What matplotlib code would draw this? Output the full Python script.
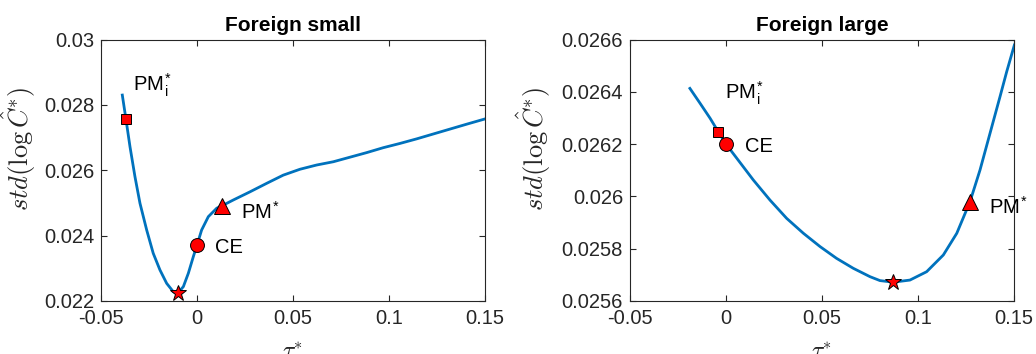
import numpy as np
import matplotlib.pyplot as plt

plt.rcParams['font.family'] = ['Liberation Sans', 'DejaVu Sans']
plt.rcParams['mathtext.fontset'] = 'cm'

# std of log consumption vs tariff, foreign small
tau_small = [-0.0389, -0.0370, -0.0349, -0.0323, -0.0297, -0.0262, -0.0228, -0.0193,
             -0.0158, -0.0123, -0.0100, -0.0071, -0.0045, -0.0019, 0.0, 0.0024,
             0.0059, 0.0103, 0.0129, 0.0189, 0.0276, 0.0363, 0.0449, 0.0536, 0.0623,
             0.0710, 0.0797, 0.0884, 0.0970, 0.1057, 0.1144, 0.1231, 0.1318, 0.1405,
             0.1500]
std_small = [0.02830, 0.02756, 0.02672, 0.02580, 0.02499, 0.02417, 0.02346, 0.02295,
             0.02254, 0.02228, 0.02224, 0.02244, 0.02285, 0.02336, 0.02371, 0.02417,
             0.02458, 0.02484, 0.02491, 0.02509, 0.02534, 0.02560, 0.02585, 0.02603,
             0.02616, 0.02626, 0.02640, 0.02654, 0.02669, 0.02682, 0.02696, 0.02711,
             0.02726, 0.02741, 0.02757]

# foreign large
tau_large = [-0.0188, -0.0135, -0.0083, -0.0040, 0.0, 0.0056, 0.0142, 0.0229, 0.0316,
             0.0403, 0.0490, 0.0576, 0.0663, 0.0750, 0.0802, 0.0871, 0.0958, 0.1045,
             0.1132, 0.1202, 0.1271, 0.1323, 0.1375, 0.1427, 0.1462, 0.1502]
std_large = [0.026413, 0.026356, 0.026299, 0.026247, 0.026200, 0.026146, 0.026063,
             0.025986, 0.025916, 0.025859, 0.025808, 0.025763, 0.025725, 0.025693,
             0.025678, 0.025672, 0.025680, 0.025712, 0.025776, 0.025859, 0.025980,
             0.026101, 0.026241, 0.026381, 0.026477, 0.026579]

# equilibrium points: (tau, std)
opt_small = (-0.0100, 0.02224)
ce_small = (0.0, 0.02371)
pm_small = (0.0129, 0.02491)
pmi_small = (-0.0370, 0.02756)

opt_large = (0.0871, 0.025672)
ce_large = (0.0, 0.026200)
pm_large = (0.1271, 0.025980)
pmi_large = (-0.0040, 0.026247)

blue = '#0072BD'
dark = '#262626'
PMI = r'PM$_\mathregular{i}^\mathregular{*}$'
PM = r'PM$^\mathregular{*}$'


def draw_panel(ax, tau, std, opt, ce, pm, pmi, title, ylim, yticks, ylabels, txt, ylab_x):
    ax.plot(tau, std, color=blue, lw=2, solid_joinstyle='round')
    mk = dict(color='red', mec='black', mew=0.7, ls='none')
    ax.plot(*pmi, marker='s', ms=7.5, **mk)
    ax.plot(*ce, marker='o', ms=10, **mk)
    ax.plot(*pm, marker='^', ms=11, **mk)
    ax.plot(*opt, marker='*', ms=12, **mk)
    for s, (x, y) in txt.items():
        ax.text(x, y, s, fontsize=14.5, va='baseline', ha='left')
    ax.set_xlim(-0.05, 0.15)
    ax.set_ylim(*ylim)
    ax.set_xticks([-0.05, 0, 0.05, 0.1, 0.15])
    ax.set_xticklabels(['-0.05', '0', '0.05', '0.1', '0.15'])
    ax.set_yticks(yticks)
    ax.set_yticklabels(ylabels)
    ax.tick_params(direction='in', top=True, right=True, labelsize=14.5,
                   colors=dark, length=4)
    ax.tick_params(axis='x', pad=6)
    ax.tick_params(axis='y', pad=5)
    for sp in ax.spines.values():
        sp.set_color(dark)
        sp.set_linewidth(0.8)
    ax.set_title(title, fontsize=15, fontweight='bold', pad=6)
    ax.set_ylabel(r'$std(\log\hat{C}^{*})$', fontsize=19, color=dark, labelpad=0)
    ax.yaxis.set_label_coords(ylab_x, 0.58)
    ax.set_xlabel(r'$\tau^{*}$', fontsize=17, color=dark, labelpad=10)


fig = plt.figure(figsize=(10.36, 3.54), dpi=100)
ax1 = fig.add_axes([101 / 1036, 53 / 354, 384 / 1036, 261.5 / 354])
ax2 = fig.add_axes([630 / 1036, 53 / 354, 384 / 1036, 261.5 / 354])

draw_panel(ax1, tau_small, std_small, opt_small, ce_small, pm_small, pmi_small,
           'Foreign small', (0.022, 0.03),
           [0.022, 0.024, 0.026, 0.028, 0.03],
           ['0.022', '0.024', '0.026', '0.028', '0.03'],
           {PMI: (-0.0335, 0.02840), PM: (0.0228, 0.02453), 'CE': (0.0094, 0.02346)},
           -0.165)
draw_panel(ax2, tau_large, std_large, opt_large, ce_large, pm_large, pmi_large,
           'Foreign large', (0.0256, 0.0266),
           [0.0256, 0.0258, 0.026, 0.0262, 0.0264, 0.0266],
           ['0.0256', '0.0258', '0.026', '0.0262', '0.0264', '0.0266'],
           {PMI: (-0.0004, 0.026370), PM: (0.1368, 0.025935), 'CE': (0.0097, 0.026171)},
           -0.2)

fig.savefig('out.png', dpi=100)
